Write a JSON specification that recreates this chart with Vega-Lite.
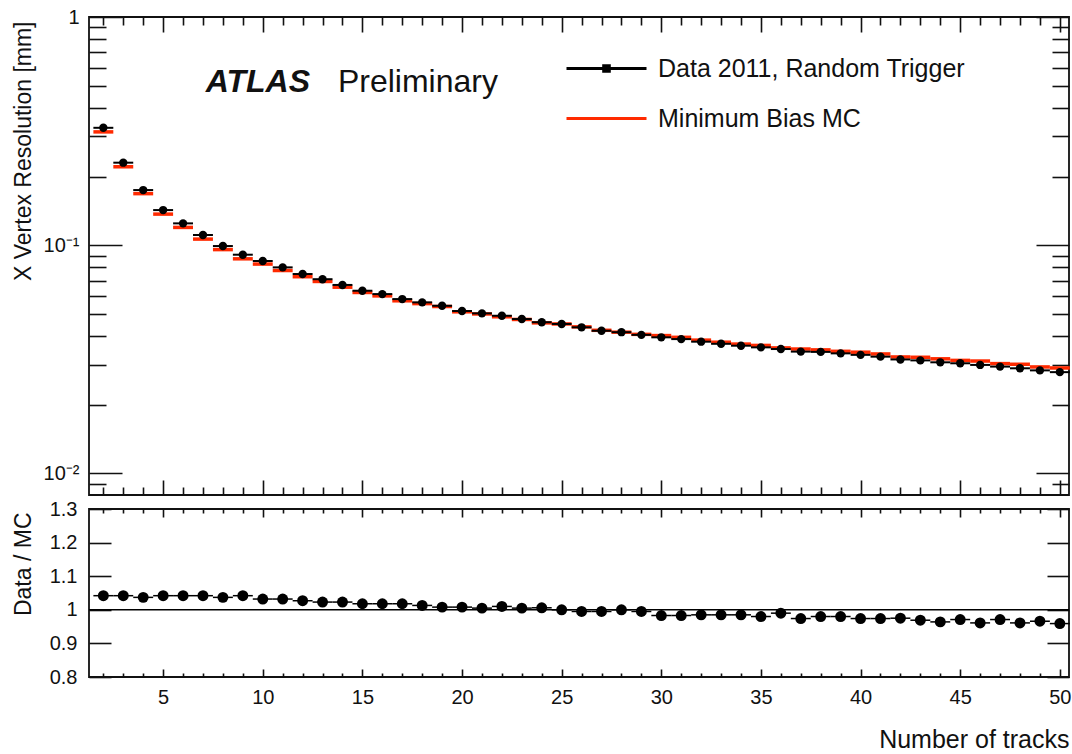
{
  "$schema": "https://vega.github.io/schema/vega-lite/v6.json",
  "background": "white",
  "padding": {"left": 11, "top": 6, "right": 2, "bottom": 2},
  "config": {
    "view": {"stroke": "#111", "strokeWidth": 1.8},
    "font": "Liberation Sans",
    "axis": {
      "domain": false, "grid": false, "tickColor": "#111", "tickWidth": 1.6,
      "labelFont": "Liberation Sans", "labelFontSize": 20, "labelColor": "#111",
      "labelFlush": false, "labelOverlap": false,
      "titleFont": "Liberation Sans", "titleFontSize": 23, "titleFontWeight": "normal", "titleColor": "#111"
    }
  },
  "datasets": {
    "res": [
      {"n": 2, "data": 0.327, "mc": 0.3138, "ratio": 1.042},
      {"n": 3, "data": 0.230, "mc": 0.2207, "ratio": 1.042},
      {"n": 4, "data": 0.1745, "mc": 0.1683, "ratio": 1.037},
      {"n": 5, "data": 0.1426, "mc": 0.1369, "ratio": 1.042},
      {"n": 6, "data": 0.1247, "mc": 0.1197, "ratio": 1.042},
      {"n": 7, "data": 0.1109, "mc": 0.1064, "ratio": 1.042},
      {"n": 8, "data": 0.0992, "mc": 0.0957, "ratio": 1.037},
      {"n": 9, "data": 0.0909, "mc": 0.0872, "ratio": 1.042},
      {"n": 10, "data": 0.0853, "mc": 0.0827, "ratio": 1.032},
      {"n": 11, "data": 0.0800, "mc": 0.0775, "ratio": 1.032},
      {"n": 12, "data": 0.0748, "mc": 0.0728, "ratio": 1.027},
      {"n": 13, "data": 0.0710, "mc": 0.0694, "ratio": 1.023},
      {"n": 14, "data": 0.0670, "mc": 0.0655, "ratio": 1.023},
      {"n": 15, "data": 0.0632, "mc": 0.0621, "ratio": 1.018},
      {"n": 16, "data": 0.0611, "mc": 0.0600, "ratio": 1.018},
      {"n": 17, "data": 0.0581, "mc": 0.0571, "ratio": 1.018},
      {"n": 18, "data": 0.0562, "mc": 0.0555, "ratio": 1.013},
      {"n": 19, "data": 0.0543, "mc": 0.0539, "ratio": 1.008},
      {"n": 20, "data": 0.0515, "mc": 0.0511, "ratio": 1.008},
      {"n": 21, "data": 0.0503, "mc": 0.0500, "ratio": 1.005},
      {"n": 22, "data": 0.0491, "mc": 0.0486, "ratio": 1.010},
      {"n": 23, "data": 0.0475, "mc": 0.0473, "ratio": 1.005},
      {"n": 24, "data": 0.0460, "mc": 0.0457, "ratio": 1.006},
      {"n": 25, "data": 0.0452, "mc": 0.0452, "ratio": 1.000},
      {"n": 26, "data": 0.0437, "mc": 0.0439, "ratio": 0.995},
      {"n": 27, "data": 0.0422, "mc": 0.0424, "ratio": 0.995},
      {"n": 28, "data": 0.0416, "mc": 0.0416, "ratio": 1.000},
      {"n": 29, "data": 0.0405, "mc": 0.0407, "ratio": 0.995},
      {"n": 30, "data": 0.0395, "mc": 0.0402, "ratio": 0.983},
      {"n": 31, "data": 0.0388, "mc": 0.0395, "ratio": 0.983},
      {"n": 32, "data": 0.0378, "mc": 0.0384, "ratio": 0.985},
      {"n": 33, "data": 0.0370, "mc": 0.0376, "ratio": 0.985},
      {"n": 34, "data": 0.0363, "mc": 0.0369, "ratio": 0.985},
      {"n": 35, "data": 0.0357, "mc": 0.0364, "ratio": 0.980},
      {"n": 36, "data": 0.0351, "mc": 0.0355, "ratio": 0.990},
      {"n": 37, "data": 0.0342, "mc": 0.0351, "ratio": 0.974},
      {"n": 38, "data": 0.0341, "mc": 0.0348, "ratio": 0.980},
      {"n": 39, "data": 0.0336, "mc": 0.0343, "ratio": 0.980},
      {"n": 40, "data": 0.0331, "mc": 0.0340, "ratio": 0.974},
      {"n": 41, "data": 0.0325, "mc": 0.0334, "ratio": 0.974},
      {"n": 42, "data": 0.0316, "mc": 0.0324, "ratio": 0.975},
      {"n": 43, "data": 0.0313, "mc": 0.0323, "ratio": 0.969},
      {"n": 44, "data": 0.0307, "mc": 0.0318, "ratio": 0.964},
      {"n": 45, "data": 0.0304, "mc": 0.0313, "ratio": 0.971},
      {"n": 46, "data": 0.0299, "mc": 0.0311, "ratio": 0.961},
      {"n": 47, "data": 0.0294, "mc": 0.0303, "ratio": 0.971},
      {"n": 48, "data": 0.0289, "mc": 0.0301, "ratio": 0.961},
      {"n": 49, "data": 0.0283, "mc": 0.0293, "ratio": 0.966},
      {"n": 50, "data": 0.0278, "mc": 0.0290, "ratio": 0.959}
    ]
  },
  "bounds": "flush",
  "spacing": 14,
  "resolve": {"scale": {"color": "independent"}, "legend": {"color": "independent"}},
  "vconcat": [
    {
      "width": 980,
      "height": 478,
      "resolve": {"axis": {"x": "independent", "y": "independent"}},
      "layer": [
        {
          "data": {"name": "res"},
          "transform": [
            {"calculate": "datum.n - 0.5", "as": "lo"},
            {"calculate": "datum.n + 0.5", "as": "hi"}
          ],
          "mark": {"type": "rule", "strokeWidth": 3.5},
          "encoding": {
            "x": {
              "field": "lo", "type": "quantitative",
              "scale": {"domain": [1.28, 50.46], "nice": false, "zero": false},
              "axis": {
                "orient": "bottom", "labels": false, "title": null, "tickSize": -15,
                "values": [2,3,4,5,6,7,8,9,10,11,12,13,14,15,16,17,18,19,20,21,22,23,24,25,26,27,28,29,30,31,32,33,34,35,36,37,38,39,40,41,42,43,44,45,46,47,48,49,50],
                "tickDash": {"condition": {"test": "datum.value % 5 !== 0", "value": [8, 40]}, "value": []}
              }
            },
            "x2": {"field": "hi"},
            "y": {
              "field": "mc", "type": "quantitative",
              "scale": {"type": "log", "domain": [0.00805, 1], "nice": false},
              "axis": {
                "orient": "left", "tickSize": -33,
                "values": [0.009, 0.01, 0.02, 0.03, 0.04, 0.05, 0.06, 0.07, 0.08, 0.09, 0.1, 0.2, 0.3, 0.4, 0.5, 0.6, 0.7, 0.8, 0.9, 1],
                "tickDash": {"condition": {"test": "datum.value !== 1 && datum.value !== 0.1 && datum.value !== 0.01", "value": [17, 60]}, "value": []},
                "labelExpr": "datum.value === 1 ? '1' : datum.value === 0.1 ? '10⁻¹' : datum.value === 0.01 ? '10⁻²' : ''",
                "labelPadding": 43,
                "title": "X Vertex Resolution [mm]",
                "titleX": -66, "titleY": 4, "titleAngle": 270,
                "titleAlign": "right", "titleBaseline": "middle"
              }
            },
            "color": {
              "datum": "Minimum Bias MC",
              "scale": {"domain": ["Data 2011, Random Trigger", "Minimum Bias MC"], "range": ["#000000", "#ff2a00"]},
              "legend": {
                "orient": "none", "legendX": 496, "legendY": 30, "padding": 0,
                "title": null, "symbolSize": 1600, "symbolStrokeWidth": 3,
                "labelFont": "Liberation Sans", "labelFontSize": 25, "labelColor": "#111",
                "labelOffset": 30, "labelLimit": 600, "rowPadding": 15,
                "encode": {
                  "symbols": {
                    "update": {
                      "shape": {"signal": "datum.value === 'Minimum Bias MC' ? 'M-2,0H2' : 'M-2,0H2M-0.14,-0.14H0.14V0.14H-0.14Z'"},
                      "fill": {"signal": "datum.value === 'Minimum Bias MC' ? '#ff2a00' : '#000000'"},
                      "stroke": {"signal": "datum.value === 'Minimum Bias MC' ? '#ff2a00' : '#000000'"},
                      "strokeWidth": {"value": 3},
                      "opacity": {"value": 1}
                    }
                  }
                }
              }
            }
          }
        },
        {
          "data": {"name": "res"},
          "transform": [
            {"calculate": "datum.n - 0.5", "as": "lo"},
            {"calculate": "datum.n + 0.5", "as": "hi"}
          ],
          "mark": {"type": "rule", "strokeWidth": 2},
          "encoding": {
            "x": {
              "field": "lo", "type": "quantitative",
              "scale": {"domain": [1.28, 50.46], "nice": false, "zero": false},
              "axis": {
                "orient": "top", "labels": false, "title": null, "tickSize": -15,
                "values": [2,3,4,5,6,7,8,9,10,11,12,13,14,15,16,17,18,19,20,21,22,23,24,25,26,27,28,29,30,31,32,33,34,35,36,37,38,39,40,41,42,43,44,45,46,47,48,49,50],
                "tickDash": {"condition": {"test": "datum.value % 5 !== 0", "value": [8, 40]}, "value": []}
              }
            },
            "x2": {"field": "hi"},
            "y": {
              "field": "data", "type": "quantitative",
              "scale": {"type": "log", "domain": [0.00805, 1], "nice": false},
              "axis": {
                "orient": "right", "labels": false, "title": null, "tickSize": -33,
                "values": [0.009, 0.01, 0.02, 0.03, 0.04, 0.05, 0.06, 0.07, 0.08, 0.09, 0.1, 0.2, 0.3, 0.4, 0.5, 0.6, 0.7, 0.8, 0.9, 1],
                "tickDash": {"condition": {"test": "datum.value !== 1 && datum.value !== 0.1 && datum.value !== 0.01", "value": [17, 60]}, "value": []}
              }
            },
            "color": {
              "datum": "Data 2011, Random Trigger",
              "scale": {"domain": ["Data 2011, Random Trigger", "Minimum Bias MC"], "range": ["#000000", "#ff2a00"]},
              "legend": null
            }
          }
        },
        {
          "data": {"name": "res"},
          "mark": {"type": "point", "shape": "circle", "filled": true, "size": 70, "opacity": 1},
          "encoding": {
            "x": {"field": "n", "type": "quantitative", "axis": null},
            "y": {"field": "data", "type": "quantitative", "axis": null},
            "color": {
              "datum": "Data 2011, Random Trigger",
              "scale": {"domain": ["Data 2011, Random Trigger", "Minimum Bias MC"], "range": ["#000000", "#ff2a00"]},
              "legend": null
            }
          }
        },
        {
          "data": {"values": [{"label": "ATLAS"}]},
          "mark": {"type": "text", "font": "Liberation Sans", "fontSize": 32, "fontStyle": "italic", "fontWeight": "bold", "align": "left", "baseline": "alphabetic", "fill": "#111"},
          "encoding": {
            "x": {"datum": 7.14, "type": "quantitative", "axis": null},
            "y": {"datum": 0.4695, "type": "quantitative", "axis": null},
            "text": {"field": "label"}
          }
        },
        {
          "data": {"values": [{"label": "Preliminary"}]},
          "mark": {"type": "text", "font": "Liberation Sans", "fontSize": 32, "align": "left", "baseline": "alphabetic", "fill": "#111"},
          "encoding": {
            "x": {"datum": 13.77, "type": "quantitative", "axis": null},
            "y": {"datum": 0.4695, "type": "quantitative", "axis": null},
            "text": {"field": "label"}
          }
        }
      ]
    },
    {
      "width": 980,
      "height": 168,
      "resolve": {"axis": {"x": "independent", "y": "independent"}},
      "layer": [
        {
          "data": {"values": [{"ref": 1}]},
          "mark": {"type": "rule", "strokeWidth": 1.5, "color": "#000"},
          "encoding": {
            "y": {"field": "ref", "type": "quantitative", "scale": {"domain": [0.8, 1.3], "nice": false, "zero": false}, "axis": null}
          }
        },
        {
          "data": {"name": "res"},
          "transform": [
            {"calculate": "datum.n - 0.5", "as": "lo"},
            {"calculate": "datum.n + 0.5", "as": "hi"}
          ],
          "mark": {"type": "rule", "strokeWidth": 1.5, "color": "#000"},
          "encoding": {
            "x": {
              "field": "lo", "type": "quantitative",
              "scale": {"domain": [1.28, 50.46], "nice": false, "zero": false},
              "axis": {
                "orient": "bottom", "tickSize": -8,
                "values": [2,3,4,5,6,7,8,9,10,11,12,13,14,15,16,17,18,19,20,21,22,23,24,25,26,27,28,29,30,31,32,33,34,35,36,37,38,39,40,41,42,43,44,45,46,47,48,49,50],
                "tickDash": {"condition": {"test": "datum.value % 5 !== 0", "value": [4, 20]}, "value": []},
                "labelExpr": "datum.value % 5 === 0 ? datum.label : ''",
                "labelPadding": 18,
                "title": "Number of tracks",
                "titleFontSize": 25,
                "titleX": 980, "titleY": 62, "titleAlign": "right", "titleBaseline": "middle"
              }
            },
            "x2": {"field": "hi"},
            "y": {
              "field": "ratio", "type": "quantitative",
              "scale": {"domain": [0.8, 1.3], "nice": false, "zero": false},
              "axis": {
                "orient": "left", "tickSize": -22,
                "values": [0.8, 0.9, 1, 1.1, 1.2, 1.3],
                "format": "~g",
                "labelPadding": 34,
                "title": "Data / MC",
                "titleX": -66, "titleY": 3, "titleAngle": 270,
                "titleAlign": "right", "titleBaseline": "middle"
              }
            }
          }
        },
        {
          "data": {"name": "res"},
          "mark": {"type": "point", "shape": "circle", "filled": true, "size": 120, "opacity": 1, "color": "#000"},
          "encoding": {
            "x": {
              "field": "n", "type": "quantitative",
              "scale": {"domain": [1.28, 50.46], "nice": false, "zero": false},
              "axis": {
                "orient": "top", "labels": false, "title": null, "tickSize": -8,
                "values": [2,3,4,5,6,7,8,9,10,11,12,13,14,15,16,17,18,19,20,21,22,23,24,25,26,27,28,29,30,31,32,33,34,35,36,37,38,39,40,41,42,43,44,45,46,47,48,49,50],
                "tickDash": {"condition": {"test": "datum.value % 5 !== 0", "value": [4, 20]}, "value": []}
              }
            },
            "y": {
              "field": "ratio", "type": "quantitative",
              "scale": {"domain": [0.8, 1.3], "nice": false, "zero": false},
              "axis": {
                "orient": "right", "labels": false, "title": null, "tickSize": -22,
                "values": [0.8, 0.9, 1, 1.1, 1.2, 1.3]
              }
            }
          }
        }
      ]
    }
  ]
}
